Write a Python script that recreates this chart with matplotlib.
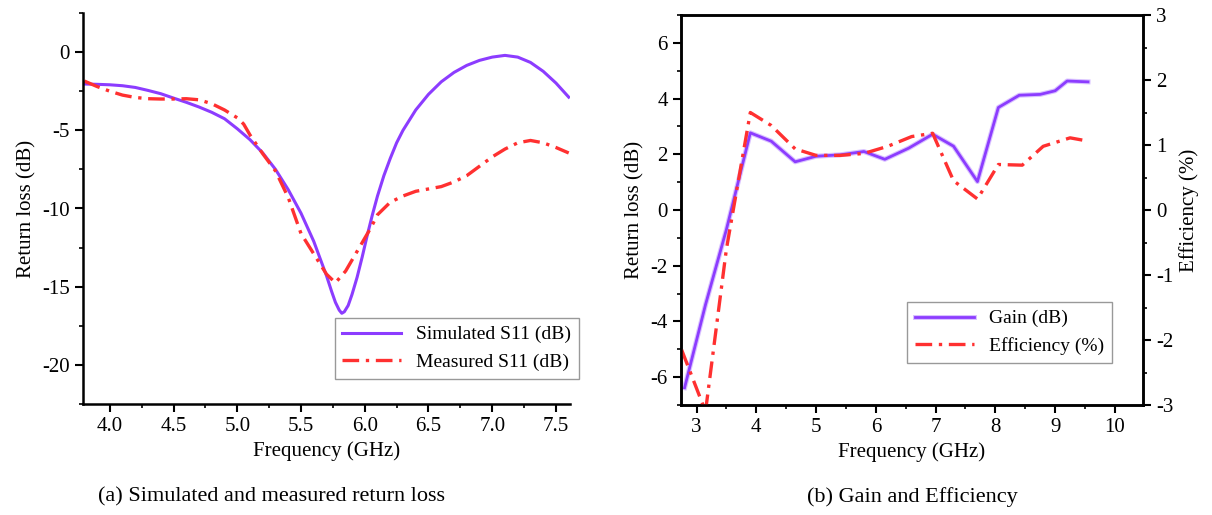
import numpy as np
import matplotlib
matplotlib.use("Agg")
import matplotlib.pyplot as plt
import matplotlib.patheffects as pe
from matplotlib.ticker import MultipleLocator, FormatStrFormatter

plt.rcParams['font.family'] = ['Liberation Serif', 'DejaVu Serif']
plt.rcParams['axes.unicode_minus'] = False

# (a) return loss
freq_a = [3.8, 3.9, 4.0, 4.1, 4.2, 4.3, 4.4, 4.5, 4.6, 4.7, 4.8, 4.9, 5.0, 5.1,
          5.2, 5.3, 5.4, 5.5, 5.6, 5.65, 5.7, 5.74, 5.77, 5.8, 5.82, 5.84, 5.87,
          5.9, 5.94, 5.98, 6.02, 6.06, 6.1, 6.15, 6.2, 6.25, 6.3, 6.4, 6.5, 6.6,
          6.7, 6.8, 6.9, 7.0, 7.1, 7.2, 7.3, 7.4, 7.5, 7.6]
s11_sim = [-2.04, -2.06, -2.09, -2.15, -2.26, -2.45, -2.66, -2.94, -3.21, -3.51,
           -3.85, -4.26, -4.9, -5.6, -6.45, -7.5, -8.8, -10.3, -12.1, -13.2,
           -14.3, -15.3, -16.0, -16.5, -16.7, -16.6, -16.2, -15.5, -14.4, -13.1,
           -11.7, -10.4, -9.2, -7.9, -6.8, -5.8, -5.0, -3.7, -2.7, -1.9, -1.3,
           -0.85, -0.53, -0.32, -0.21, -0.32, -0.66, -1.23, -1.98, -2.88]

freq_m = [3.8, 3.9, 4.0, 4.1, 4.2, 4.3, 4.4, 4.5, 4.6, 4.7, 4.8, 4.9, 5.0, 5.05,
          5.1, 5.2, 5.3, 5.4, 5.5, 5.6, 5.7, 5.77, 5.85, 5.95, 6.05, 6.1, 6.2,
          6.3, 6.4, 6.5, 6.6, 6.7, 6.8, 6.9, 7.0, 7.1, 7.2, 7.3, 7.4, 7.5, 7.6]
s11_meas = [-1.85, -2.2, -2.5, -2.75, -2.9, -2.98, -3.0, -3.0, -2.98, -3.05,
            -3.3, -3.7, -4.2, -4.6, -5.3, -6.5, -7.6, -9.3, -11.6, -12.9,
            -14.2, -14.75, -14.0, -12.6, -11.2, -10.4, -9.6, -9.2, -8.9, -8.75,
            -8.6, -8.3, -7.9, -7.3, -6.7, -6.2, -5.8, -5.65, -5.8, -6.1, -6.45]

# (b) gain and efficiency
freq_g = [2.8, 3.15, 3.5, 3.9, 4.25, 4.65, 5.0, 5.4, 5.8, 6.15, 6.55, 6.95,
          7.3, 7.7, 8.05, 8.4, 8.75, 9.0, 9.2, 9.55]
gain = [-6.38, -3.4, -0.7, 2.77, 2.47, 1.73, 1.93, 1.98, 2.1, 1.82, 2.22, 2.72,
        2.29, 1.02, 3.68, 4.12, 4.15, 4.28, 4.63, 4.6]

freq_e = [2.75, 3.15, 3.5, 3.9, 4.25, 4.65, 5.0, 5.4, 5.8, 6.2, 6.6, 6.95,
          7.3, 7.7, 8.05, 8.45, 8.8, 9.25, 9.55]
eff = [-2.15, -3.1, -0.6, 1.5, 1.3, 0.94, 0.84, 0.84, 0.87, 0.98, 1.13, 1.18,
       0.45, 0.17, 0.7, 0.69, 0.98, 1.11, 1.06]

purple = '#8c3cff'
red = '#ff3030'
dashdot = (0, (5, 2, 1, 2))
W, H = 1212, 515

fig = plt.figure(figsize=(W / 100, H / 100), dpi=100)


def style_axis(ax):
    ax.tick_params(which='major', direction='out', length=6, width=1.5, labelsize=15)
    ax.tick_params(which='minor', direction='out', length=3, width=1.2)
    for sp in ax.spines.values():
        sp.set_linewidth(1.8)


# ---- panel (a)
ax1 = fig.add_axes([83 / W, 1 - 404 / H, (570 - 83) / W, (404 - 13) / H])
ax1.plot(freq_a, s11_sim, color=purple, lw=2.2, label='Simulated S11 (dB)')
ax1.plot(freq_m, s11_meas, color=red, lw=2.4, linestyle=dashdot, label='Measured S11 (dB)')
ax1.set_xlim(3.79, 7.61)
ax1.set_ylim(-22.5, 2.5)
ax1.xaxis.set_major_locator(MultipleLocator(0.5))
ax1.xaxis.set_minor_locator(MultipleLocator(0.25))
ax1.yaxis.set_major_locator(MultipleLocator(5))
ax1.yaxis.set_minor_locator(MultipleLocator(2.5))
ax1.xaxis.set_major_formatter(FormatStrFormatter('%.1f'))
ax1.spines['top'].set_visible(False)
ax1.spines['right'].set_visible(False)
style_axis(ax1)
ax1.set_xlabel('Frequency (GHz)', fontsize=15)
ax1.set_ylabel('Return loss (dB)', fontsize=15)
leg1 = ax1.legend(loc='upper right', bbox_to_anchor=(579 / W, 1 - 318 / H),
                  bbox_transform=fig.transFigure, fontsize=14, fancybox=False,
                  edgecolor='#999999', framealpha=1, handlelength=3.0,
                  borderaxespad=0)
leg1.get_frame().set_linewidth(1.0)

# ---- panel (b)
ax2 = fig.add_axes([681 / W, 1 - 405 / H, (1143 - 681) / W, (405 - 15) / H])
ax3 = ax2.twinx()
glow = [pe.Stroke(linewidth=3.6, foreground='#d9c2ff'), pe.Normal()]
l1, = ax2.plot(freq_g, gain, color=purple, lw=2.0, label='Gain (dB)', path_effects=glow)
l2, = ax3.plot(freq_e, eff, color=red, lw=2.4, linestyle=dashdot, label='Efficiency (%)')
ax2.set_xlim(2.74, 10.47)
ax2.set_ylim(-7, 7)
ax3.set_ylim(-3, 3)
ax2.xaxis.set_major_locator(MultipleLocator(1))
ax2.xaxis.set_minor_locator(MultipleLocator(0.5))
ax2.yaxis.set_major_locator(MultipleLocator(2))
ax2.yaxis.set_minor_locator(MultipleLocator(1))
ax3.yaxis.set_major_locator(MultipleLocator(1))
ax3.yaxis.set_minor_locator(MultipleLocator(0.5))
style_axis(ax2)
style_axis(ax3)
ax2.set_xlabel('Frequency (GHz)', fontsize=15)
ax2.set_ylabel('Return loss (dB)', fontsize=15)
ax3.set_ylabel('Efficiency (%)', fontsize=15)
leg2 = ax2.legend([l1, l2], ['Gain (dB)', 'Efficiency (%)'], loc='upper right',
                  bbox_to_anchor=(1112 / W, 1 - 302 / H), bbox_transform=fig.transFigure,
                  fontsize=14, fancybox=False, edgecolor='#999999', framealpha=1,
                  handlelength=3.0, borderaxespad=0)
leg2.get_frame().set_linewidth(1.0)

# captions
fig.text(272 / W, 1 - 497 / H, '(a) Simulated and measured return loss',
         ha='center', va='center', fontsize=16)
fig.text(912 / W, 1 - 497 / H, '(b) Gain and Efficiency',
         ha='center', va='center', fontsize=16)

fig.savefig('out.png', dpi=100)
